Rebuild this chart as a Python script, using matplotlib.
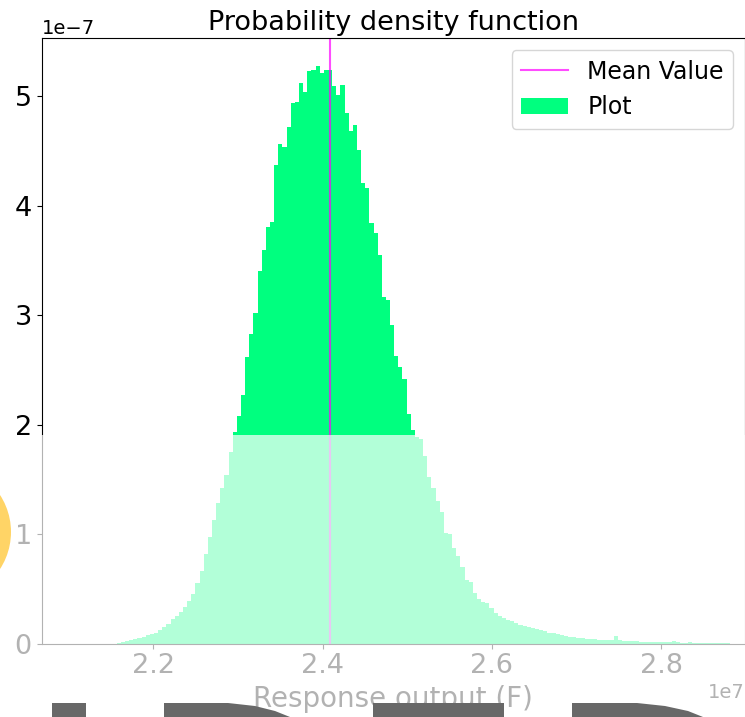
import numpy as np
import matplotlib
matplotlib.use('Agg')
import matplotlib.pyplot as plt
from matplotlib.patches import Rectangle, Ellipse, Polygon

# histogram (density in units of 1e-7, equal-width bins)
bin_start = 2.1569e7      # left edge of first visible bin
bin_width = 4.89e4
density_left = [0.005, 0.015, 0.02, 0.03, 0.04, 0.05, 0.06, 0.075, 0.085, 0.10,
                0.12, 0.15, 0.18, 0.22, 0.25, 0.29, 0.33, 0.39, 0.45, 0.55,
                0.66, 0.82, 0.97, 1.13, 1.28, 1.42, 1.54, 1.75]
density_peak = [1.93, 2.08, 2.27, 2.62, 2.83, 3.02, 3.40, 3.60, 3.81, 3.85,
                4.37, 4.56, 4.54, 4.72, 4.94, 4.95, 5.12, 5.04, 5.23, 5.24,
                5.28, 5.21, 5.24, 5.24, 5.09, 5.01, 5.10, 4.85, 4.68, 4.74,
                4.51, 4.21, 4.16, 3.84, 3.75, 3.55, 3.17, 3.14, 2.91, 2.63,
                2.53, 2.42, 2.10, 1.95]
density_right = [1.89, 1.87, 1.71, 1.52, 1.42, 1.30, 1.20, 1.01, 1.00, 0.87,
                 0.80, 0.70, 0.58, 0.565, 0.46, 0.41, 0.38, 0.37, 0.32, 0.28,
                 0.25, 0.23, 0.215, 0.21, 0.19, 0.17, 0.16, 0.15, 0.14, 0.13,
                 0.125, 0.115, 0.10, 0.095, 0.085, 0.08, 0.07, 0.06, 0.058, 0.052,
                 0.05, 0.045, 0.04, 0.04, 0.035, 0.033, 0.033, 0.03, 0.065, 0.028,
                 0.026, 0.024, 0.02, 0.019, 0.018, 0.017, 0.016, 0.015, 0.014, 0.013,
                 0.012, 0.012, 0.025, 0.01, 0.009, 0.008, 0.012, 0.007, 0.006, 0.009,
                 0.005, 0.004, 0.003, 0.003, 0.002, 0.002]
mean_value = 2.4086e7
x_ticks = [2.2e7, 2.4e7, 2.6e7, 2.8e7]
y_ticks = [0, 1e-7, 2e-7, 3e-7, 4e-7, 5e-7]

density = np.array(density_left + density_peak + density_right) * 1e-7
edges = bin_start + bin_width * np.arange(len(density) + 1)

W, H = 745, 717
fig = plt.figure(figsize=(W / 100, H / 100), dpi=100)
ax = fig.add_axes([41.5 / W, (H - 643.5) / H, 1 - 41.5 / W, (643.5 - 38.3) / H])

ax.hist(edges[:-1], bins=edges, weights=density, histtype='stepfilled',
        color='springgreen', label='Plot')
ax.axvline(mean_value, color='magenta', alpha=0.7, lw=1.5, label='Mean Value')

ax.set_xlim(2.068e7, 2.8988e7)
ax.set_ylim(0, 5.53e-7)
ax.set_xticks(x_ticks)
ax.set_yticks(y_ticks)
ax.tick_params(labelsize=19.5)
ax.xaxis.get_offset_text().set_fontsize(14)
ax.yaxis.get_offset_text().set_fontsize(14)
ax.set_title('Probability density function', fontsize=19.5)
ax.set_xlabel('Response output (F)', fontsize=20)
handles, labels = ax.get_legend_handles_labels()
ax.legend(handles[::-1], labels[::-1], loc='upper right', fontsize=17)


def px(x, y):
    return (x / W, (H - y) / H)


# faded band over the lower part of the screenshot
fig.add_artist(Rectangle((0, 0), 1, (H - 435) / H, transform=fig.transFigure,
                         facecolor='white', alpha=0.7, edgecolor='none', zorder=10))
fig.add_artist(Ellipse(px(-57, 532), 2 * 68 / W, 2 * 68 / H, transform=fig.transFigure,
                       facecolor='#FFD466', edgecolor='none', zorder=11))
grey = '#686868'
shapes = [
    [(52, 703), (86, 703), (86, 717), (52, 717)],
    [(164, 703), (228, 703), (255, 706), (275, 711), (290, 717), (164, 717)],
    [(373, 703), (504, 703), (504, 717), (373, 717)],
    [(572, 703), (637, 703), (665, 706), (688, 711), (703, 717), (572, 717)],
]
for s in shapes:
    fig.add_artist(Polygon([px(*p) for p in s], closed=True, transform=fig.transFigure,
                           facecolor=grey, edgecolor='none', zorder=12))

fig.savefig('out.png', dpi=100)
